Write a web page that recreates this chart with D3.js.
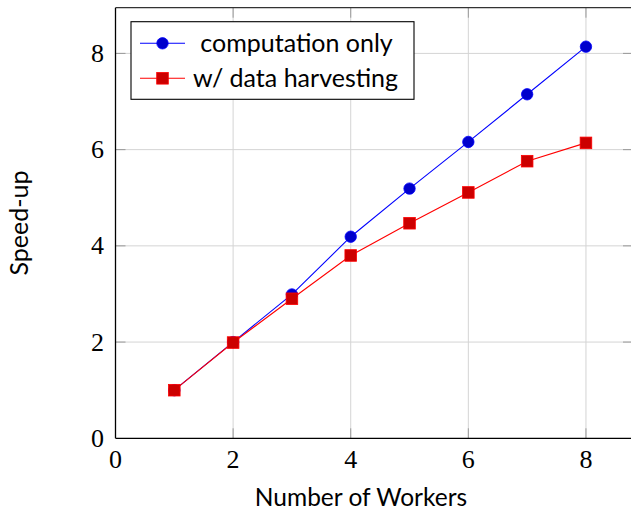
<!DOCTYPE html>
<html><head><meta charset="utf-8">
<script src="https://cdn.jsdelivr.net/npm/d3@7"></script>
<style>body{margin:0;background:#fff}svg{display:block}</style>
</head><body>
<svg id="c" width="631" height="510"></svg>
<script>
const workers = [1,2,3,4,5,6,7,8];
const computationOnly = [1.0, 2.0, 2.99, 4.19, 5.19, 6.16, 7.15, 8.14];
const dataHarvesting = [1.0, 1.99, 2.9, 3.8, 4.47, 5.11, 5.76, 6.14];
const xTicks = [0,2,4,6,8];
const yTicks = [0,2,4,6,8];
const seriesNames = ["computation only", "w/ data harvesting"];

const svg = d3.select("#c");
const L = 115.5, R = 633, T = 7.7, B = 438.3;
const x = d3.scaleLinear().domain([0, 8.8]).range([L, R]);
const y = d3.scaleLinear().domain([0, 8.95]).range([B, T]);

const serif = "'Liberation Serif', serif";
const sans = "Lato, 'Open Sans', sans-serif";

// grid
svg.append("g").selectAll("line").data(xTicks.filter(d=>d>0)).join("line")
  .attr("x1", d=>x(d)).attr("x2", d=>x(d)).attr("y1", T).attr("y2", B)
  .attr("stroke", "#d4d4d4").attr("stroke-width", 1);
svg.append("g").selectAll("line").data(yTicks.filter(d=>d>0)).join("line")
  .attr("y1", d=>y(d)).attr("y2", d=>y(d)).attr("x1", L).attr("x2", R)
  .attr("stroke", "#d4d4d4").attr("stroke-width", 1);

// ticks (inside, mirrored)
const tk = 10;
const tg = svg.append("g").attr("stroke", "#9a9a9a").attr("stroke-width", 1);
xTicks.filter(d=>d>0).forEach(d=>{
  tg.append("line").attr("x1", x(d)).attr("x2", x(d)).attr("y1", B).attr("y2", B-tk);
  tg.append("line").attr("x1", x(d)).attr("x2", x(d)).attr("y1", T).attr("y2", T+tk);
});
yTicks.filter(d=>d>0).forEach(d=>{
  tg.append("line").attr("y1", y(d)).attr("y2", y(d)).attr("x1", L).attr("x2", L+tk);
  tg.append("line").attr("y1", y(d)).attr("y2", y(d)).attr("x1", R).attr("x2", R-tk);
});

// frame
svg.append("line").attr("x1", L).attr("x2", R).attr("y1", T).attr("y2", T).attr("stroke", "#333").attr("stroke-width", 1.3);
svg.append("line").attr("x1", L).attr("x2", R).attr("y1", B).attr("y2", B).attr("stroke", "#000").attr("stroke-width", 1.3);
svg.append("line").attr("x1", L).attr("x2", L).attr("y1", T).attr("y2", B).attr("stroke", "#000").attr("stroke-width", 1.3);

// tick labels
svg.append("g").selectAll("text").data(xTicks).join("text")
  .attr("x", d=>x(d)).attr("y", 468).attr("text-anchor", "middle")
  .style("font-family", serif).style("font-size", "26px").text(d=>d);
svg.append("g").selectAll("text").data(yTicks).join("text")
  .attr("x", 104).attr("y", d=>y(d)).attr("dy", "0.33em").attr("text-anchor", "end")
  .style("font-family", serif).style("font-size", "26px").text(d=>d);

// axis labels
svg.append("text").attr("x", 361).attr("y", 506).attr("text-anchor", "middle")
  .style("font-family", sans).style("font-size", "24.5px").text("Number of Workers");
svg.append("text").attr("transform", `translate(28,${(T+B)/2}) rotate(-90)`).attr("text-anchor", "middle")
  .style("font-family", sans).style("font-size", "25px").text("Speed-up");

// lines
const line = d3.line().x((d,i)=>x(workers[i])).y(d=>y(d));
svg.append("path").datum(computationOnly).attr("d", line).attr("fill", "none").attr("stroke", "#0000ff").attr("stroke-width", 1.1);
svg.append("path").datum(dataHarvesting).attr("d", line).attr("fill", "none").attr("stroke", "#ff0000").attr("stroke-width", 1.1);

svg.append("g").selectAll("circle").data(computationOnly).join("circle")
  .attr("cx", (d,i)=>x(workers[i])).attr("cy", d=>y(d)).attr("r", 5.7)
  .attr("fill", "#0000cc").attr("stroke", "#0000ff").attr("stroke-width", 0.8);
svg.append("g").selectAll("rect").data(dataHarvesting).join("rect")
  .attr("x", (d,i)=>x(workers[i])-5.8).attr("y", d=>y(d)-5.8).attr("width", 11.6).attr("height", 11.6)
  .attr("fill", "#cc0000").attr("stroke", "#ff0000").attr("stroke-width", 0.8);

// legend
const lg = svg.append("g");
lg.append("rect").attr("x", 131).attr("y", 21.7).attr("width", 283).attr("height", 77.6)
  .attr("fill", "#fff").attr("stroke", "#000").attr("stroke-width", 1.1);
const rows = [43.3, 78.3];
lg.append("line").attr("x1", 140).attr("x2", 185).attr("y1", rows[0]).attr("y2", rows[0]).attr("stroke", "#0000ff").attr("stroke-width", 1.1);
lg.append("circle").attr("cx", 162.5).attr("cy", rows[0]).attr("r", 5.7).attr("fill", "#0000cc").attr("stroke", "#0000ff").attr("stroke-width", 0.8);
lg.append("line").attr("x1", 140).attr("x2", 185).attr("y1", rows[1]).attr("y2", rows[1]).attr("stroke", "#ff0000").attr("stroke-width", 1.1);
lg.append("rect").attr("x", 162.5-5.8).attr("y", rows[1]-5.8).attr("width", 11.6).attr("height", 11.6).attr("fill", "#cc0000").attr("stroke", "#ff0000").attr("stroke-width", 0.8);
lg.append("text").attr("x", 296.5).attr("y", rows[0]).attr("dy", "0.35em").attr("text-anchor", "middle")
  .style("font-family", sans).style("font-size", "25px").text(seriesNames[0]);
lg.append("text").attr("x", 295.5).attr("y", rows[1]).attr("dy", "0.35em").attr("text-anchor", "middle")
  .style("font-family", sans).style("font-size", "25px").text(seriesNames[1]);
</script>
</body></html>
